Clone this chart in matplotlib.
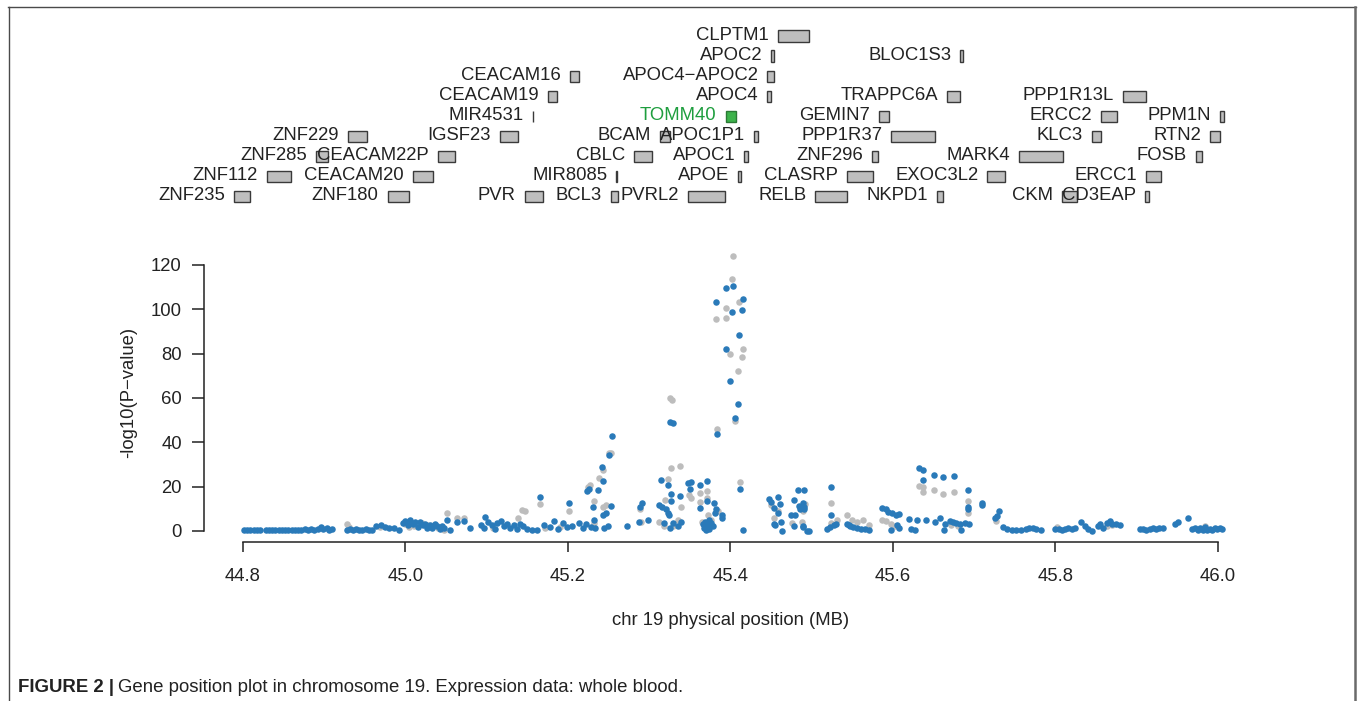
import matplotlib
matplotlib.use("Agg")
import matplotlib.pyplot as plt
from matplotlib.lines import Line2D

plt.rcParams['font.family'] = ['Liberation Sans', 'DejaVu Sans']

# gene track: name, start (MB), end (MB), row (1 = bottom)
gene_names = ["ZNF235", "ZNF180", "PVR", "BCL3", "PVRL2", "RELB", "NKPD1", "CKM", "CD3EAP",
              "ZNF112", "CEACAM20", "MIR8085", "APOE", "CLASRP", "EXOC3L2", "ERCC1",
              "ZNF285", "CEACAM22P", "CBLC", "APOC1", "ZNF296", "MARK4", "FOSB",
              "ZNF229", "IGSF23", "BCAM", "APOC1P1", "PPP1R37", "KLC3", "RTN2",
              "MIR4531", "TOMM40", "GEMIN7", "ERCC2", "PPM1N",
              "CEACAM19", "APOC4", "TRAPPC6A", "PPP1R13L",
              "CEACAM16", "APOC4\u2212APOC2",
              "APOC2", "BLOC1S3",
              "CLPTM1"]
gene_start = [44.789, 44.978, 45.147, 45.2525, 45.348, 45.5045, 45.6545, 45.808, 45.910,
              44.8295, 45.009, 45.2595, 45.409, 45.543, 45.716, 45.9115,
              44.890, 45.040, 45.281, 45.417, 45.5746, 45.755, 45.973,
              44.929, 45.116, 45.313, 45.4295, 45.598, 45.845, 45.990,
              45.1565, 45.394, 45.583, 45.856, 46.0025,
              45.175, 45.4455, 45.667, 45.883,
              45.202, 45.4455,
              45.450, 45.683,
              45.458]
gene_end = [44.8086, 45.004, 45.169, 45.262, 45.393, 45.543, 45.662, 45.827, 45.915,
            44.859, 45.034, 45.2605, 45.4135, 45.576, 45.738, 45.930,
            44.9045, 45.061, 45.304, 45.422, 45.581, 45.809, 45.980,
            44.9525, 45.139, 45.325, 45.434, 45.652, 45.856, 46.0025,
            45.1575, 45.407, 45.5955, 45.876, 46.007,
            45.187, 45.450, 45.683, 45.9115,
            45.214, 45.453,
            45.453, 45.6865,
            45.497]
gene_row = [1] * 9 + [2] * 7 + [3] * 7 + [4] * 7 + [5] * 5 + [6] * 4 + [7] * 2 + [8] * 2 + [9]
highlight_gene = "TOMM40"

# association results: position (MB) and -log10(P)
blue_x = [44.801, 44.805, 44.809, 44.813, 44.817, 44.821, 44.828, 44.832, 44.836, 44.840,
          44.844, 44.848, 44.852, 44.856, 44.860, 44.864, 44.868, 44.872, 44.876, 44.880,
          44.884, 44.888, 44.892, 44.896, 44.899, 44.903, 44.906, 44.910,
          44.928, 44.932, 44.935, 44.939, 44.943, 44.947, 44.951, 44.955, 44.959,
          44.964, 44.970, 44.975, 44.980, 44.986, 44.992, 44.997, 45.000, 45.003, 45.006,
          45.009, 45.012, 45.015, 45.018, 45.021, 45.024, 45.027, 45.030, 45.033, 45.036,
          45.039, 45.042, 45.045, 45.048, 45.051, 45.055, 45.063, 45.072, 45.079,
          45.098, 45.093, 45.097, 45.102, 45.106, 45.110, 45.113, 45.117, 45.121, 45.125,
          45.129, 45.133, 45.137, 45.141, 45.145, 45.150, 45.156, 45.162, 45.166, 45.171,
          45.178, 45.183, 45.188, 45.194, 45.199, 45.201, 45.205, 45.213, 45.219,
          45.224, 45.226, 45.231, 45.232, 45.237, 45.242, 45.243, 45.243, 45.247, 45.251,
          45.253, 45.254, 45.222, 45.228, 45.233, 45.244, 45.249,
          45.273, 45.287, 45.289, 45.291, 45.298, 45.312, 45.314, 45.316, 45.323, 45.321,
          45.323, 45.324, 45.325, 45.329, 45.327, 45.327, 45.338, 45.318, 45.329, 45.339,
          45.335, 45.326,
          45.348, 45.352, 45.350, 45.362, 45.371, 45.362, 45.371, 45.380, 45.382, 45.381,
          45.390, 45.390, 45.366, 45.368, 45.370, 45.372, 45.374, 45.376, 45.378, 45.369,
          45.373, 45.383,
          45.395, 45.403, 45.382, 45.416, 45.402, 45.414, 45.411, 45.395, 45.399, 45.409,
          45.405, 45.412, 45.416,
          45.448, 45.458, 45.461, 45.453, 45.458, 45.453, 45.462, 45.464, 45.455, 45.483,
          45.491, 45.478, 45.484, 45.489, 45.486, 45.475, 45.480, 45.478, 45.489, 45.497,
          45.490, 45.491, 45.494, 45.489, 45.450,
          45.524, 45.524, 45.519, 45.523, 45.527, 45.530, 45.544, 45.547, 45.551, 45.556,
          45.561, 45.565, 45.570, 45.546, 45.586, 45.591, 45.594, 45.599, 45.604, 45.608,
          45.598, 45.605, 45.607, 45.620, 45.630, 45.622, 45.627,
          45.632, 45.637, 45.637, 45.651, 45.662, 45.675, 45.692, 45.692, 45.692, 45.641,
          45.652, 45.658, 45.664, 45.663, 45.670, 45.674, 45.678, 45.682, 45.689, 45.684,
          45.694,
          45.709, 45.710, 45.731, 45.728, 45.726, 45.736, 45.740, 45.746, 45.752, 45.758,
          45.764, 45.768, 45.772, 45.776, 45.782, 45.800, 45.804, 45.808, 45.812, 45.816,
          45.820, 45.824, 45.832, 45.836, 45.840, 45.845, 45.852, 45.855, 45.859, 45.863,
          45.867, 45.870, 45.875, 45.879, 45.904, 45.908, 45.912, 45.916, 45.920, 45.924,
          45.928, 45.932, 45.947, 45.951, 45.963, 45.968, 45.972, 45.975, 45.978, 45.981,
          45.984, 45.987, 45.990, 45.993, 45.996, 45.999, 46.002, 46.005]
blue_y = [0.2, 0.3, 0.2, 0.4, 0.2, 0.3, 0.2, 0.3, 0.2, 0.4,
          0.3, 0.2, 0.5, 0.3, 0.4, 0.6, 0.3, 0.5, 0.7, 0.4,
          0.8, 0.6, 1.0, 1.8, 0.9, 1.2, 0.5, 0.9,
          0.5, 1.0, 0.4, 0.8, 0.6, 0.3, 0.9, 0.5, 0.3,
          2.3, 2.8, 1.8, 1.3, 1.5, 0.6, 3.6, 4.6, 2.5, 4.9,
          3.0, 4.2, 1.9, 3.8, 2.5, 3.1, 1.5, 2.8, 1.2, 3.3,
          2.0, 0.9, 2.4, 1.1, 5.0, 0.3, 3.8, 4.5, 1.2,
          6.3, 2.5, 1.5, 4.0, 2.8, 0.8, 3.4, 4.6, 2.0, 3.2,
          1.5, 2.6, 1.0, 3.0, 2.2, 0.9, 0.6, 0.3, 15.5, 2.8,
          1.6, 4.4, 0.7, 3.6, 1.8, 12.8, 2.4, 3.5, 1.5,
          18.0, 18.7, 11.0, 4.8, 18.3, 29.0, 22.3, 7.2, 8.0, 34.3,
          11.2, 42.7, 3.0, 1.8, 1.2, 1.5, 2.2,
          2.4, 4.1, 11.0, 12.7, 5.0, 11.6, 23.1, 11.0, 20.7, 10.0,
          8.0, 7.0, 49.1, 48.5, 16.5, 13.6, 15.9, 3.5, 3.5, 4.1,
          2.0, 1.2,
          21.6, 22.1, 18.9, 20.7, 22.3, 10.3, 13.6, 12.5, 9.8, 8.3,
          7.2, 6.0, 3.0, 1.5, 0.6, 2.5, 1.0, 3.4, 2.0, 4.2,
          5.0, 43.9,
          109.7, 110.5, 103.4, 104.5, 98.9, 99.5, 88.5, 82.0, 67.8, 57.2,
          51.0, 18.7, 0.6,
          14.6, 15.2, 12.1, 10.3, 8.0, 3.0, 4.1, 0.0, 2.5, 18.6,
          18.3, 13.9, 11.3, 12.8, 10.1, 7.1, 7.2, 2.3, 1.9, 0.0,
          11.0, 10.0, 0.0, 2.3, 13.0,
          19.9, 7.1, 0.8, 1.8, 2.5, 3.3, 3.3, 2.0, 1.8, 1.3,
          1.0, 0.7, 0.3, 2.8, 10.3, 9.8, 8.7, 8.0, 7.2, 7.6,
          0.6, 2.7, 1.3, 5.4, 4.9, 0.8, 0.4,
          28.2, 27.5, 23.0, 25.2, 24.3, 25.0, 18.6, 10.9, 10.0, 4.8,
          4.2, 5.8, 3.0, 0.3, 4.5, 3.8, 3.4, 3.0, 3.4, 0.3,
          3.0,
          12.8, 11.8, 9.1, 6.8, 6.0, 1.8, 1.0, 0.4, 0.6, 0.2,
          1.0, 1.5, 1.2, 0.8, 0.3, 0.8, 0.9, 0.6, 1.0, 1.2,
          0.9, 1.3, 3.8, 2.3, 1.0, 0.0, 2.0, 2.9, 1.5, 3.5,
          4.5, 3.3, 3.0, 2.5, 1.0, 0.8, 0.6, 0.9, 1.2, 0.7,
          1.1, 1.4, 3.0, 4.0, 6.0, 0.8, 1.4, 0.5, 1.2, 0.3,
          1.6, 0.6, 1.0, 0.4, 1.3, 0.7, 1.5, 0.9]

grey_x = [44.928, 44.931, 44.968, 44.999, 45.004, 45.010, 45.020, 45.028, 45.040, 45.051,
          45.064, 45.072, 45.047, 45.138, 45.144, 45.147, 45.166, 45.201, 45.108, 45.172,
          45.190, 45.225, 45.227, 45.232, 45.238, 45.243, 45.243, 45.247, 45.253, 45.250,
          45.232, 45.290, 45.289, 45.326, 45.328, 45.327, 45.338, 45.323, 45.339, 45.312,
          45.318, 45.329, 45.336, 45.320, 45.349, 45.351, 45.362, 45.371, 45.371, 45.363,
          45.365, 45.372, 45.376, 45.383, 45.385,
          45.403, 45.402, 45.410, 45.395, 45.395, 45.382, 45.416, 45.399, 45.414, 45.409,
          45.405, 45.412,
          45.450, 45.453, 45.459, 45.489, 45.476, 45.488, 45.492,
          45.524, 45.531, 45.524, 45.544, 45.550, 45.556, 45.563, 45.570, 45.587, 45.591,
          45.597, 45.603,
          45.632, 45.637, 45.637, 45.651, 45.662, 45.675, 45.692, 45.692, 45.672, 45.680,
          45.727, 45.802, 45.864, 45.984, 45.869]
grey_y = [3.0, 1.8, 1.6, 3.2, 1.8, 2.2, 3.5, 2.5, 1.5, 7.9,
          5.7, 5.7, 0.4, 5.7, 9.4, 9.1, 12.1, 8.8, 1.5, 1.2,
          1.9, 19.6, 20.7, 13.3, 23.7, 27.5, 11.0, 11.6, 35.0, 35.3,
          3.5, 3.8, 10.0, 59.9, 59.2, 28.2, 29.4, 23.4, 11.0, 4.0,
          2.0, 2.0, 5.0, 14.0, 16.0, 15.0, 17.0, 18.0, 15.0, 13.0,
          4.0, 7.0, 5.0, 46.0, 9.0,
          124.1, 113.7, 103.1, 100.8, 96.2, 95.4, 82.0, 80.0, 78.4, 72.3,
          49.4, 21.9,
          11.5, 6.0, 9.0, 9.0, 3.5, 4.0, 12.0,
          12.8, 5.0, 3.5, 7.2, 5.0, 4.0, 5.0, 2.5, 4.8, 4.3,
          3.0, 2.0,
          20.4, 19.9, 17.7, 18.3, 16.6, 17.7, 13.6, 8.0, 2.5, 2.0,
          4.5, 1.8, 2.0, 2.0, 2.8]

x_ticks = [44.8, 45.0, 45.2, 45.4, 45.6, 45.8, 46.0]
y_ticks = [0, 20, 40, 60, 80, 100, 120]

W, H = 1360, 701
fig = plt.figure(figsize=(W / 100, H / 100), dpi=100)
text_col = '#222222'
fs = 13.3
xlim = (44.752, 46.048)

# main association panel
ax = fig.add_axes([204 / W, (H - 542) / H, 1053 / W, 297 / H])
ax.scatter(grey_x, grey_y, s=22, color='#bdbdbd', linewidths=0, zorder=2)
ax.scatter(blue_x, blue_y, s=22, color='#2a7ab9', linewidths=0, zorder=3)
ax.set_xlim(*xlim)
ax.set_ylim(-5, 129)
for side in ['top', 'right']:
    ax.spines[side].set_visible(False)
ax.spines['left'].set_bounds(0, 120)
ax.spines['bottom'].set_bounds(44.8, 46.0)
for side in ['left', 'bottom']:
    ax.spines[side].set_linewidth(1.1)
    ax.spines[side].set_color(text_col)
ax.set_xticks(x_ticks)
ax.set_xticklabels([f"{v:.1f}" for v in x_ticks])
ax.set_yticks(y_ticks)
ax.tick_params(axis='both', labelsize=fs, colors=text_col, width=1.1)
ax.tick_params(axis='y', length=8.5, pad=7.5)
ax.tick_params(axis='x', length=7.5, pad=11)
ax.set_ylabel("-log10(P\u2212value)", fontsize=fs, color=text_col)
ax.set_xlabel("chr 19 physical position (MB)", fontsize=fs, color=text_col)
ax.yaxis.set_label_coords(-0.0636, 0.502)
ax.xaxis.set_label_coords(0.5, -0.236)

# gene track
gx = fig.add_axes([204 / W, (H - 206) / H, 1053 / W, 180 / H])
gx.set_xlim(*xlim)
gx.set_ylim(0.5, 9.5)
gx.axis('off')
for name, s, e, r in zip(gene_names, gene_start, gene_end, gene_row):
    if name == highlight_gene:
        face, edge, tc = '#3db34b', '#2b7a35', '#1e9e3e'
    else:
        face, edge, tc = '#bebebe', '#3a3a3a', text_col
    gx.barh(r, e - s, left=s, height=0.55, color=face, edgecolor=edge, linewidth=1.0)
    gx.annotate(name, (s, r), xytext=(-6.5, 0), textcoords='offset points',
                ha='right', va='center', fontsize=fs, color=tc)

# figure frame and caption
fig.add_artist(Line2D([8.5 / W, 8.5 / W], [0, (H - 7) / H], transform=fig.transFigure,
                      color='#4a4a4a', lw=1.0))
fig.add_artist(Line2D([8 / W, 1356 / W], [(H - 7) / H, (H - 7) / H], transform=fig.transFigure,
                      color='#4a4a4a', lw=1.0))
fig.add_artist(Line2D([1355 / W, 1355 / W], [0, (H - 7) / H], transform=fig.transFigure,
                      color='#6a6a6a', lw=1.8))

cap_y = (H - 687) / H
cap1 = fig.text(18 / W, cap_y, "FIGURE 2 |", fontsize=13.4, fontweight='bold',
                color=text_col, va='center', ha='left')
fig.canvas.draw()
bb = cap1.get_window_extent(fig.canvas.get_renderer())
fig.text((bb.x1 + 4) / W, cap_y,
         "Gene position plot in chromosome 19. Expression data: whole blood.",
         fontsize=13.4, color=text_col, va='center', ha='left')

fig.savefig("out.png", dpi=100)
